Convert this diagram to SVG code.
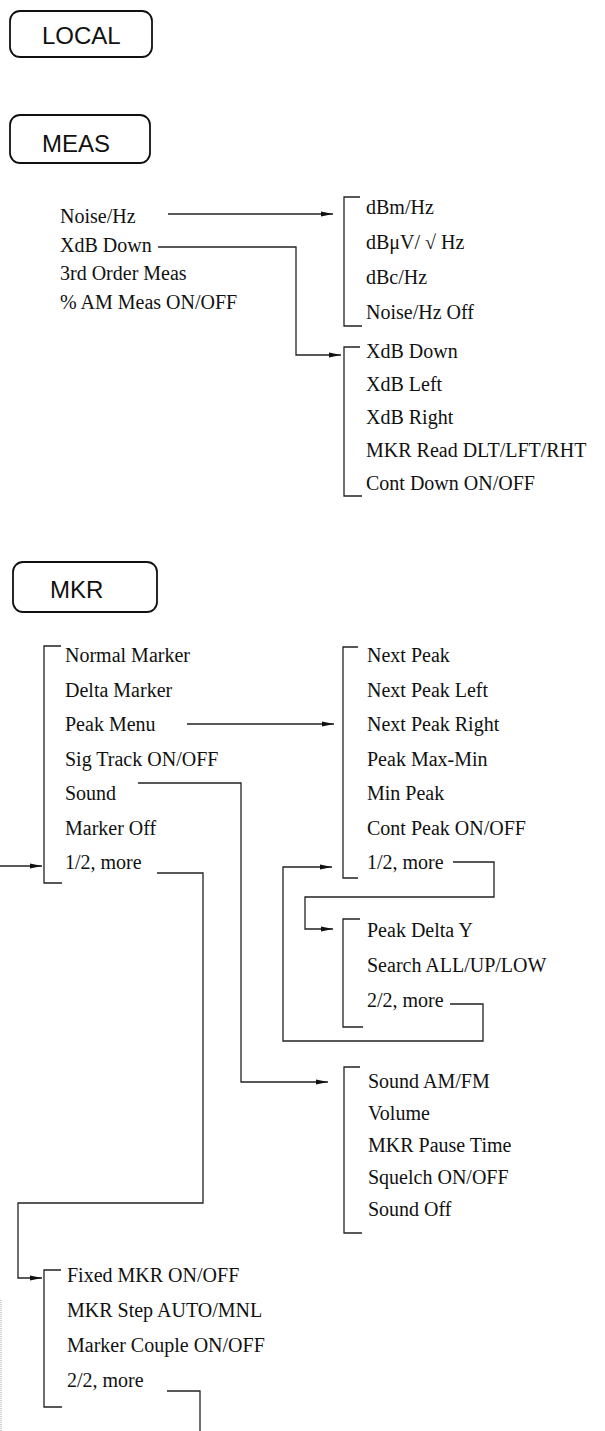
<svg xmlns="http://www.w3.org/2000/svg" width="605" height="1431" viewBox="0 0 605 1431">
<style>
.btn{fill:none;stroke:#111;stroke-width:1.8}
.bt{font-family:"Liberation Sans",Arial,sans-serif;font-size:24px;fill:#111}
.t{font-family:"Liberation Serif","Times New Roman",serif;font-size:20px;fill:#111}
.br{fill:none;stroke:#222;stroke-width:1.3}
.c{fill:none;stroke:#222;stroke-width:1.3}
.faint{fill:none;stroke:#999;stroke-width:1;stroke-dasharray:1 1}
</style>
<defs>
<marker id="ah" markerWidth="12" markerHeight="6" refX="12" refY="3" orient="auto" markerUnits="userSpaceOnUse">
<path d="M0,0.5 L12,3 L0,5.5 z" fill="#111"/>
</marker>
</defs>
<rect width="605" height="1431" fill="#fff"/>

<g id="btn-local"><rect class="btn" x="10" y="11" width="142" height="46" rx="10"/><text class="bt" x="42" y="44">LOCAL</text></g>
<g id="btn-meas"><rect class="btn" x="10" y="115" width="140" height="48" rx="10"/><text class="bt" x="42" y="152">MEAS</text></g>
<g id="btn-mkr"><rect class="btn" x="13" y="562" width="144" height="50" rx="10"/><text class="bt" x="50" y="598">MKR</text></g>

<g id="meas-menu">
<text class="t" x="60" y="223">Noise/Hz</text>
<text class="t" x="60" y="251.5">XdB Down</text>
<text class="t" x="60" y="280">3rd Order Meas</text>
<text class="t" x="60" y="308.5">% AM Meas ON/OFF</text>
</g>

<g id="noise-menu">
<path class="br" d="M360,197 H344 V326 H362"/>
<text class="t" x="366" y="214">dBm/Hz</text>
<text class="t" x="366" y="249">dBμV/ √ Hz</text>
<text class="t" x="366" y="284">dBc/Hz</text>
<text class="t" x="366" y="319">Noise/Hz Off</text>
</g>

<g id="xdb-menu">
<path class="br" d="M360,347 H344 V496 H362"/>
<text class="t" x="366" y="358">XdB Down</text>
<text class="t" x="366" y="391">XdB Left</text>
<text class="t" x="366" y="424">XdB Right</text>
<text class="t" x="366" y="457">MKR Read DLT/LFT/RHT</text>
<text class="t" x="366" y="490">Cont Down ON/OFF</text>
</g>

<g id="mkr-menu1">
<path class="br" d="M61,646 H44 V883 H62"/>
<text class="t" x="65" y="662">Normal Marker</text>
<text class="t" x="65" y="696.5">Delta Marker</text>
<text class="t" x="65" y="731">Peak Menu</text>
<text class="t" x="65" y="765.5">Sig Track ON/OFF</text>
<text class="t" x="65" y="800">Sound</text>
<text class="t" x="65" y="834.5">Marker Off</text>
<text class="t" x="65" y="869">1/2, more</text>
</g>

<g id="peak-menu1">
<path class="br" d="M358,647 H343 V878 H358"/>
<text class="t" x="367" y="662">Next Peak</text>
<text class="t" x="367" y="696.5">Next Peak Left</text>
<text class="t" x="367" y="731">Next Peak Right</text>
<text class="t" x="367" y="765.5">Peak Max-Min</text>
<text class="t" x="367" y="800">Min Peak</text>
<text class="t" x="367" y="834.5">Cont Peak ON/OFF</text>
<text class="t" x="367" y="869">1/2, more</text>
</g>

<g id="peak-menu2">
<path class="br" d="M360,919 H343 V1027 H363"/>
<text class="t" x="367" y="937">Peak Delta Y</text>
<text class="t" x="367" y="972">Search ALL/UP/LOW</text>
<text class="t" x="367" y="1007">2/2, more</text>
</g>

<g id="sound-menu">
<path class="br" d="M360,1067 H344 V1233 H362"/>
<text class="t" x="368" y="1088">Sound AM/FM</text>
<text class="t" x="368" y="1120">Volume</text>
<text class="t" x="368" y="1152">MKR Pause Time</text>
<text class="t" x="368" y="1184">Squelch ON/OFF</text>
<text class="t" x="368" y="1216">Sound Off</text>
</g>

<g id="mkr-menu2">
<path class="br" d="M61,1270 H44 V1407 H62"/>
<text class="t" x="67" y="1282">Fixed MKR ON/OFF</text>
<text class="t" x="67" y="1317">MKR Step AUTO/MNL</text>
<text class="t" x="67" y="1352">Marker Couple ON/OFF</text>
<text class="t" x="67" y="1387">2/2, more</text>
</g>

<g id="connectors">
<path class="c" d="M168,214 H333" marker-end="url(#ah)"/>
<path class="c" d="M158,247 H296 V355 H341" marker-end="url(#ah)"/>
<path class="c" d="M187,724 H334" marker-end="url(#ah)"/>
<path class="c" d="M138,783 H241 V1082 H328" marker-end="url(#ah)"/>
<path class="c" d="M157,873 H203 V1203 H18 V1278 H42" marker-end="url(#ah)"/>
<path class="c" d="M0,866 H42" marker-end="url(#ah)"/>
<path class="c" d="M453,862 H494 V897 H305 V929 H333" marker-end="url(#ah)"/>
<path class="c" d="M450,1004 H483 V1041 H283 V867 H332" marker-end="url(#ah)"/>
<path class="c" d="M167,1391 H200 V1431"/>
<path class="faint" d="M1,1300 V1431"/>
</g>
</svg>
